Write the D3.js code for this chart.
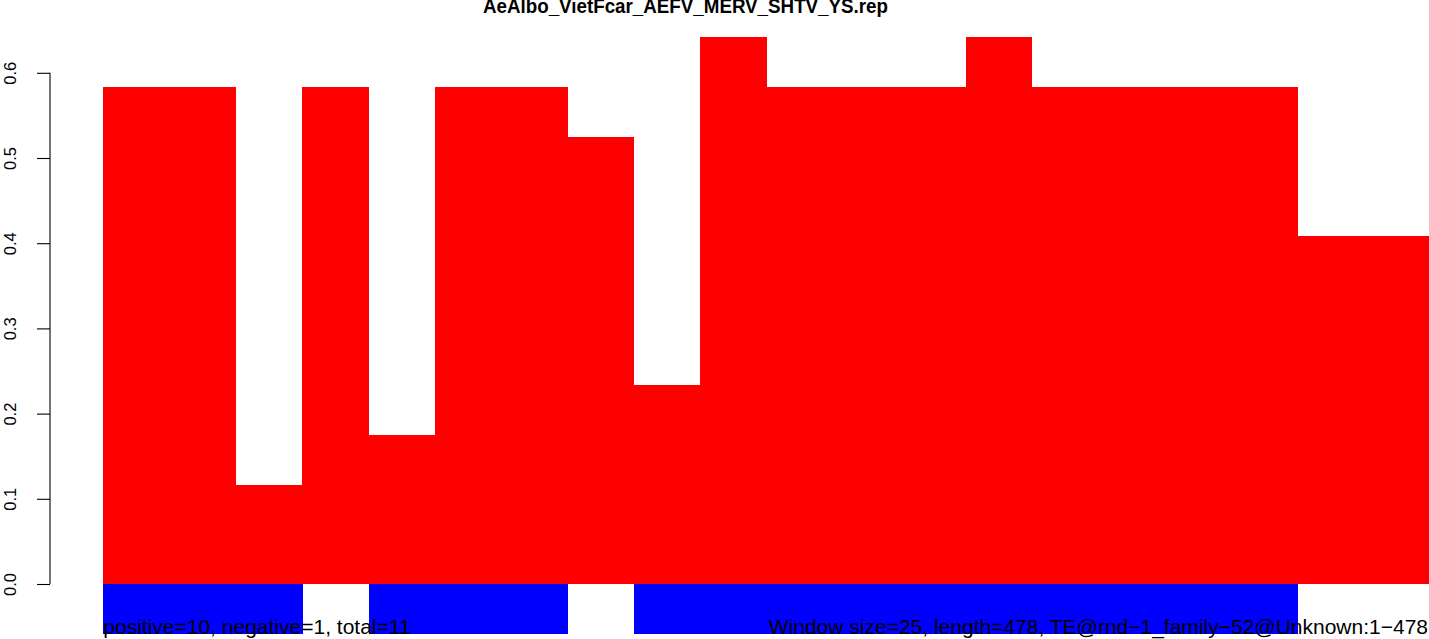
<!DOCTYPE html>
<html>
<head>
<meta charset="utf-8">
<script src="https://cdn.jsdelivr.net/npm/d3@7"></script>
<style>
  html, body { margin: 0; padding: 0; background: #fff; }
  svg { display: block; font-family: "Liberation Sans", Arial, Helvetica, sans-serif; }
</style>
</head>
<body>
<svg id="chart" width="1429" height="639"></svg>
<script>
// ---- data ----
const title = "AeAlbo_VietFcar_AEFV_MERV_SHTV_YS.rep";
const windows = d3.range(1, 21);
const positiveValues = [0.5833, 0.5833, 0.1167, 0.5833, 0.175, 0.5833, 0.5833, 0.525, 0.2333, 0.6417,
                        0.5833, 0.5833, 0.5833, 0.6417, 0.5833, 0.5833, 0.5833, 0.5833, 0.4083, 0.4083];
const negativeValues = [-0.0583, -0.0583, -0.0583, 0, -0.0583, -0.0583, -0.0583, 0, -0.0583, -0.0583,
                        -0.0583, -0.0583, -0.0583, -0.0583, -0.0583, -0.0583, -0.0583, -0.0583, 0, 0];
const yTicks = [0, 0.1, 0.2, 0.3, 0.4, 0.5, 0.6];
const leftNote = "positive=10, negative=1, total=11";
const rightNote = "Window size=25, length=478, TE@rnd\u22121_family\u221252@Unknown:1\u2212478";

// ---- layout ----
const svg = d3.select("#chart");
const x = d3.scaleBand().domain(windows).range([103.3, 1430]).padding(0);
const y = d3.scaleLinear().domain([0, 0.6]).range([584, 72.8]);

// positive bars
svg.append("g").attr("shape-rendering", "crispEdges")
  .selectAll("rect").data(windows).join("rect")
  .attr("x", d => x(d))
  .attr("width", x.bandwidth() + 0.5)
  .attr("y", (d, i) => y(positiveValues[i]))
  .attr("height", (d, i) => y(0) - y(positiveValues[i]))
  .attr("fill", "#ff0000");

// negative bars
svg.append("g").attr("shape-rendering", "crispEdges")
  .selectAll("rect").data(windows).join("rect")
  .attr("x", d => x(d))
  .attr("width", x.bandwidth() + 0.5)
  .attr("y", y(0))
  .attr("height", (d, i) => y(negativeValues[i]) - y(0))
  .attr("fill", "#0000ff");

// y axis
const axis = d3.axisLeft(y).tickValues(yTicks).tickFormat(d3.format(".1f")).tickSize(13).tickSizeOuter(0);
const gAxis = svg.append("g").attr("transform", "translate(50,0)").call(axis);
gAxis.select(".domain").attr("stroke", "#000").attr("stroke-width", 1.1)
  .attr("d", `M0,${y(0)}V${y(0.6)}`);
gAxis.selectAll(".tick line").attr("stroke", "#000").attr("stroke-width", 1.1);
gAxis.selectAll(".tick text")
  .attr("x", null).attr("dy", null)
  .attr("transform", "translate(-34.5,0) rotate(-90)")
  .attr("text-anchor", "middle")
  .attr("font-size", "16.5px")
  .attr("font-family", "Liberation Sans, Arial, sans-serif")
  .attr("fill", "#000");

// title
svg.append("text")
  .attr("x", 685.5).attr("y", 12.5)
  .attr("text-anchor", "middle")
  .attr("font-weight", "bold")
  .attr("font-size", "21px")
  .attr("textLength", 405)
  .attr("lengthAdjust", "spacingAndGlyphs")
  .text(title);

// notes
svg.append("text")
  .attr("x", 103.3).attr("y", 634)
  .attr("font-size", "21px")
  .attr("fill", "#000")
  .text(leftNote);
svg.append("text")
  .attr("x", 1428).attr("y", 634)
  .attr("text-anchor", "end")
  .attr("font-size", "21px")
  .attr("fill", "#000")
  .text(rightNote);
</script>
</body>
</html>
